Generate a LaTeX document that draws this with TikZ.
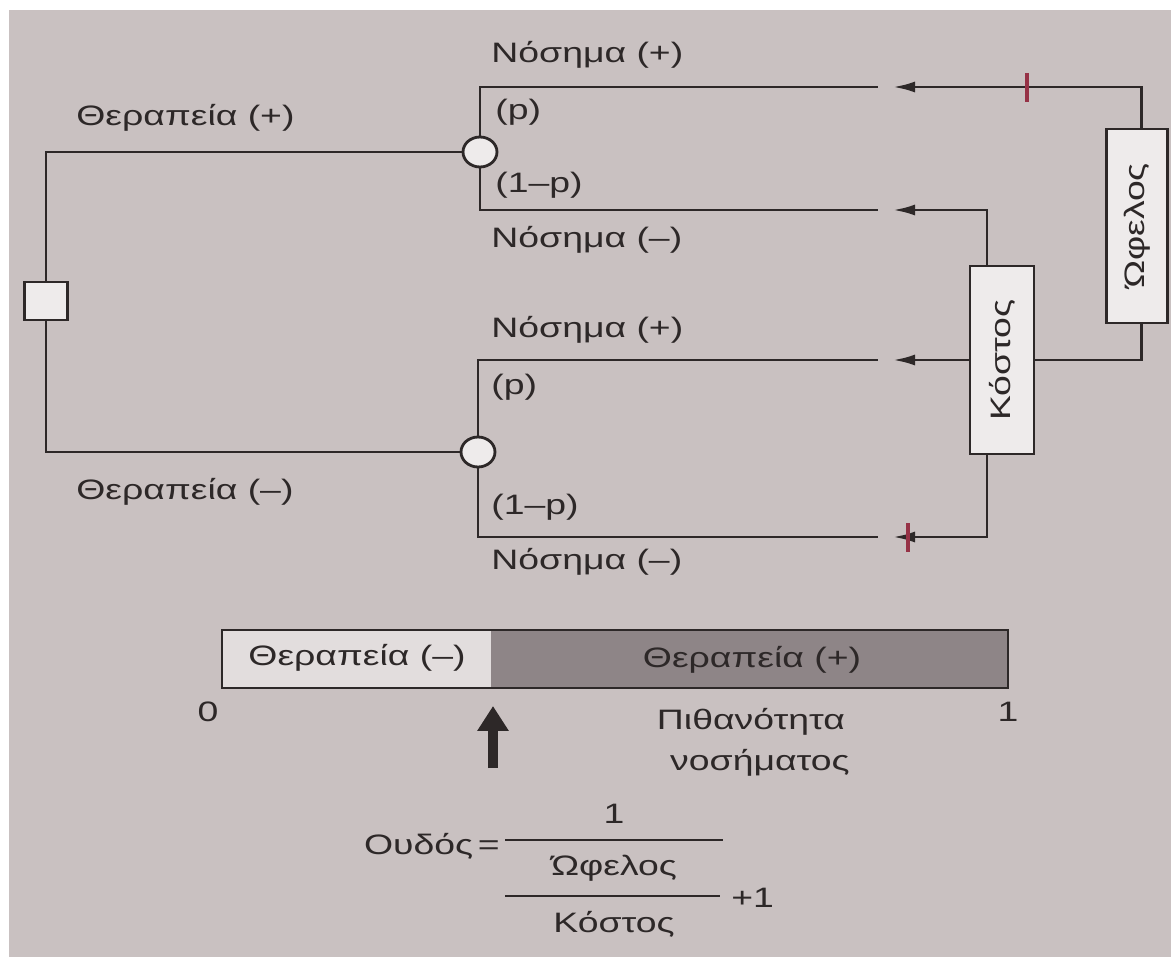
\documentclass[tikz,border=0pt]{standalone}
\usepackage{fontspec}
\setmainfont{Liberation Sans}[FakeStretch=1.33]
\usepackage{tikz}
\usetikzlibrary{arrows.meta}
\usetikzlibrary{shapes.geometric}

\definecolor{paper}{RGB}{201,193,193}
\definecolor{ink}{RGB}{45,40,40}
\definecolor{boxfill}{RGB}{238,235,235}
\definecolor{barlight}{RGB}{226,221,221}
\definecolor{bardark}{RGB}{142,133,135}
\definecolor{tickred}{RGB}{150,50,70}

\tikzset{
	decision/.style = {draw, rectangle, fill = boxfill, minimum width = 0.86cm, minimum height = 0.76cm, inner sep = 0},
	chance/.style = {draw, ellipse, fill = boxfill, minimum width = 0.68cm, minimum height = 0.6cm, inner sep = 0},
	payoff/.style = {draw, rectangle, fill = boxfill, rotate = 90, inner sep = 0},
	lbl/.style = {anchor = west, inner sep = 0},
	feed/.style = {-{Latex[length = 0.44cm, width = 0.22cm]}},
	tick/.style = {draw = tickred, line width = 2.2pt}
}

\begin{document}
\begin{tikzpicture}[x = 0.02cm, y = -0.02cm, line width = 1.6pt, draw = ink, text = ink, font = \fontsize{16}{19}\selectfont]
	\useasboundingbox (0, 0) rectangle (1171, 960);
	\fill[white] (0, 0) rectangle (1171, 960);
	\fill[paper] (9, 10) rectangle (1171, 957);

	% decision tree
	\node[decision] (dec) at (46, 301) {};
	\node[chance] (c1) at (480, 152) {};
	\node[chance] (c2) at (478, 452) {};
	\draw (dec.north) |- (c1.west);
	\draw (dec.south) |- (c2.west);

	\coordinate (e1) at (878, 87);
	\coordinate (e2) at (878, 210);
	\coordinate (e3) at (878, 360);
	\coordinate (e4) at (878, 537);
	\draw (c1.north) |- (e1);
	\draw (c1.south) |- (e2);
	\draw (c2.north) |- (e3);
	\draw (c2.south) |- (e4);

	\node[lbl] (treatp) at (75, 118) {Θεραπεία (+)};
	\node[lbl] (treatm) at (75, 492) {Θεραπεία (--)};
	\node[lbl] (dis1p) at (490, 55) {Νόσημα (+)};
	\node[lbl] (pr1) at (494, 112) {(p)};
	\node[lbl] (pr1q) at (494, 185) {(1--p)};
	\node[lbl] (dis1m) at (490, 240) {Νόσημα (--)};
	\node[lbl] (dis2p) at (490, 330) {Νόσημα (+)};
	\node[lbl] (pr2) at (490, 387) {(p)};
	\node[lbl] (pr2q) at (490, 507) {(1--p)};
	\node[lbl] (dis2m) at (490, 562) {Νόσημα (--)};

	% payoffs (rotated: east is up, west is down)
	\node[payoff, minimum width = 3.88cm, minimum height = 1.22cm] (ofelos) at (1137, 226) {Ώφελος};
	\node[payoff, minimum width = 3.76cm, minimum height = 1.28cm] (kostos) at (1002, 360) {Κόστος};

	\coordinate (t1) at (893, 87);
	\coordinate (t2) at (893, 210);
	\coordinate (t3) at (893, 360);
	\coordinate (t4) at (893, 537);
	\draw[feed] ([xshift = 0.09cm]ofelos.east) |- (t1);
	\draw[feed] ([xshift = -0.3cm]kostos.east) |- (t2);
	\draw ([xshift = 0.09cm]ofelos.west) |- (kostos.south);
	\draw[feed] (kostos.north) -- (t3);
	\draw[feed] ([xshift = -0.3cm]kostos.west) |- (t4);

	\draw[tick] (1027, 73) -- (1027, 102);
	\draw[tick] (908, 523) -- (908, 552);

	% threshold bar
	\fill[barlight] (222, 630) rectangle (491, 688);
	\fill[bardark] (491, 630) rectangle (1008, 688);
	\draw (222, 630) rectangle (1008, 688);
	\node (barm) at (357, 658) {Θεραπεία (--)};
	\node (barp) at (752, 660) {Θεραπεία (+)};
	\node (zero) at (208, 712) {0};
	\node (one) at (1008, 712) {1};
	\node (prob) at (751, 722) {Πιθανότητα};
	\node (probb) at (760, 763) {νοσήματος};

	\coordinate (thrtail) at (493, 768);
	\coordinate (thr) at (493, 706);
	\draw[line width = 0.2cm, -{Triangle[length = 0.5cm, width = 0.6cm]}] (thrtail) -- (thr);

	% formula
	\node[anchor = east] (oudos) at (507, 846) {Ουδός\,=};
	\draw (505, 840) -- (723, 840);
	\node (num) at (614, 814) {1};
	\node (fofelos) at (614, 868) {Ώφελος};
	\draw (505, 896) -- (720, 896);
	\node[anchor = west] (plus) at (724, 898) {+1};
	\node (fkostos) at (614, 924) {Κόστος};
\end{tikzpicture}
\end{document}
